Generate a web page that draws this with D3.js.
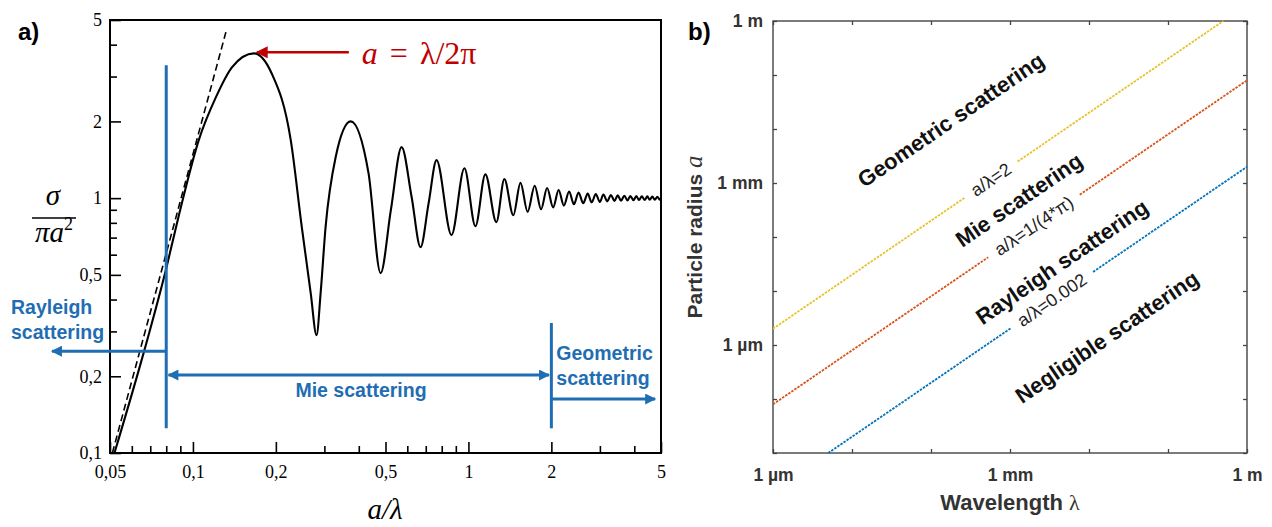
<!DOCTYPE html>
<html><head><meta charset="utf-8">
<script src="https://cdn.jsdelivr.net/npm/d3@7"></script>
<style>body{margin:0;background:#fff}svg{display:block}</style>
</head><body>
<svg id="c" width="1272" height="527"></svg>
<script>
// ================= DATA =================
// Panel a: sigma/(pi a^2) vs a/lambda
const curveX = [0.0519,0.0665,0.080,0.089,0.105,0.1212,0.1385,0.1664,0.193,0.2265,0.2484,0.2676,0.281,0.291,0.303,0.3296,0.3737,0.434,0.480,0.523,0.572,0.622,0.670,0.717,0.766,0.868,0.967,1.06,1.152,1.263,1.35,1.455,
  1.545,1.64,1.74,1.835,1.93,2.03,2.125,2.22,2.32,2.415,2.51,2.61,2.71,2.80,2.90,3.00,3.09,3.19,3.29,3.39,3.48,3.58,3.68,3.78,3.87,3.97,4.07,4.16,4.26,4.36,4.46,4.55,4.65,4.75,4.85,4.94,5.0];
const curveY = [0.1,0.251,0.53,0.86,1.69,2.49,3.26,3.70,3.09,1.688,0.77,0.424,0.29,0.43,0.77,1.448,2.0,1.25,0.508,0.90,1.585,1.01,0.642,0.956,1.41,0.716,1.31,0.776,1.24,0.805,1.187,0.857,
  1.148,0.883,1.119,0.904,1.096,0.920,1.076,0.935,1.062,0.946,1.052,0.955,1.042,0.962,1.038,0.966,1.033,0.971,1.028,0.975,1.026,0.977,1.022,0.979,1.020,0.982,1.018,0.983,1.017,0.984,1.016,0.985,1.014,0.986,1.013,0.987,1.0];
const asymptoteX = [0.051, 0.1317];
const asymptoteY = [0.1, 4.48];
const aXMajor = [0.05,0.1,0.2,0.5,1,2,5];
const aXMinor = [0.06,0.07,0.08,0.09,0.3,0.4,0.6,0.7,0.8,0.9,3,4];
const aYMajor = [0.1,0.2,0.5,1,2,5];
const aYMinor = [0.3,0.4,0.6,0.7,0.8,0.9,3,4];
const regimeBounds = [0.08, 2];          // a/lambda boundaries
const peakX = 0.1664, peakY = 3.70;      // a = lambda/2pi marker

// Panel b: regime boundaries a = r * lambda
const boundaryRatios = [2, 1/(4*Math.PI), 0.002];
const boundaryLabels = ["a/\u03bb=2", "a/\u03bb=1/(4*\u03c0)", "a/\u03bb=0.002"];
const boundaryColors = ["#E8C22A", "#D95319", "#0072BD"];
const regionNames = ["Geometric scattering","Mie scattering","Rayleigh scattering","Negligible scattering"];
const bXTicks = [1e-6,1e-5,1e-4,1e-3,1e-2,1e-1,1];
const bYTicks = [1e-8,1e-7,1e-6,1e-5,1e-4,1e-3,1e-2,1e-1,1];
const bTickLabelVals = [1e-6,1e-3,1];
const bTickLabels = ["1 \u00b5m","1 mm","1 m"];

// ================= LAYOUT =================
const svg = d3.select("#c");
const defs = svg.append("defs");
const BLUE = "#1f6db3", RED = "#c00000";
function marker(id, color, w, h){
  defs.append("marker").attr("id",id).attr("viewBox","0 0 10 10").attr("refX",9).attr("refY",5)
    .attr("markerWidth",w).attr("markerHeight",h).attr("markerUnits","userSpaceOnUse")
    .attr("orient","auto-start-reverse")
    .append("path").attr("d","M0,0 L10,5 L0,10 z").attr("fill",color);
}
marker("arrB", BLUE, 13, 11);
marker("arrR", RED, 17, 12);

// ---------- Panel a ----------
const xA = d3.scaleLog().domain([0.05,5]).range([110,661]);
const yA = d3.scaleLog().domain([0.1,5]).range([453,20]);
const gA = svg.append("g");
const loc = d3.formatLocale({decimal:",",thousands:".",grouping:[3],currency:["",""]});
const fmtA = loc.format("~g");
const serif = "'Liberation Serif','DejaVu Serif',serif";

function styleAxis(g, font, size, color, sw){
  g.select(".domain").remove();
  g.selectAll(".tick line").attr("stroke",color).attr("stroke-width",sw);
  g.selectAll(".tick text").attr("font-family",font).attr("font-size",size).attr("fill",color);
}
gA.append("g").attr("transform","translate(0,453)")
  .call(d3.axisBottom(xA).tickValues(aXMajor).tickSize(-11).tickPadding(12).tickFormat(fmtA))
  .call(g=>styleAxis(g,serif,18,"#000",1.6));
gA.append("g").attr("transform","translate(0,453)")
  .call(d3.axisBottom(xA).tickValues(aXMinor).tickSize(-7).tickFormat(""))
  .call(g=>styleAxis(g,serif,18,"#000",1.6));
gA.append("g").attr("transform","translate(110,0)")
  .call(d3.axisLeft(yA).tickValues(aYMajor).tickSize(-11).tickPadding(8).tickFormat(fmtA))
  .call(g=>styleAxis(g,serif,18,"#000",1.6));
gA.append("g").attr("transform","translate(110,0)")
  .call(d3.axisLeft(yA).tickValues(aYMinor).tickSize(-7).tickFormat(""))
  .call(g=>styleAxis(g,serif,18,"#000",1.6));
gA.append("rect").attr("x",xA.range()[0]).attr("y",yA.range()[1])
  .attr("width",xA.range()[1]-xA.range()[0]).attr("height",yA.range()[0]-yA.range()[1])
  .attr("fill","none").attr("stroke","#000").attr("stroke-width",2);

// asymptote
gA.append("path").datum(d3.zip(asymptoteX, asymptoteY))
  .attr("d", d3.line().x(d=>xA(d[0])).y(d=>yA(d[1])))
  .attr("fill","none").attr("stroke","#000").attr("stroke-width",1.6).attr("stroke-dasharray","7,4");
// curve
gA.append("path").datum(d3.zip(curveX, curveY))
  .attr("d", d3.line().x(d=>xA(d[0])).y(d=>yA(d[1])).curve(d3.curveMonotoneX))
  .attr("fill","none").attr("stroke","#000").attr("stroke-width",2.1).attr("stroke-linejoin","round");

// red annotation
const arrowTail = xA(peakX)+95;
gA.append("line").attr("x1",arrowTail).attr("x2",xA(peakX)+3)
  .attr("y1",yA(peakY)-1).attr("y2",yA(peakY)-1)
  .attr("stroke",RED).attr("stroke-width",2.5).attr("marker-end","url(#arrR)");
const rt = gA.append("text").attr("x",arrowTail+13).attr("y",yA(peakY)+11)
  .attr("font-family",serif).attr("font-size",32).attr("fill",RED);
rt.append("tspan").attr("font-style","italic").text("a");
rt.append("tspan").attr("dx",12).text("=");
rt.append("tspan").attr("dx",12).text("\u03bb/2\u03c0");

// blue regime annotations
const vTop = [3.32, 0.3236], vBot = 0.125;
regimeBounds.forEach((b,i)=>{
  gA.append("line").attr("x1",xA(b)).attr("x2",xA(b)).attr("y1",yA(vTop[i])).attr("y2",yA(vBot))
    .attr("stroke",BLUE).attr("stroke-width",3);
});
const arrowDefs = [
  {from:0.08, to:0.0308, y:0.251, both:false},
  {from:0.0815, to:1.96, y:0.2023, both:true},
  {from:2, to:4.76, y:0.1628, both:false}
];
arrowDefs.forEach(a=>{
  const l = gA.append("line").attr("x1",xA(a.from)).attr("x2",xA(a.to)).attr("y1",yA(a.y)).attr("y2",yA(a.y))
    .attr("stroke",BLUE).attr("stroke-width",3).attr("marker-end","url(#arrB)");
  if(a.both) l.attr("marker-start","url(#arrB)");
});
const sans = "'Liberation Sans',Arial,sans-serif";
function blueText(lines, x, y, anchor){
  const t = gA.append("text").attr("font-family",sans).attr("font-weight","bold").attr("font-size",19.5)
    .attr("fill",BLUE).attr("text-anchor",anchor);
  lines.forEach((s,i)=>t.append("tspan").attr("x",x).attr("y",y+i*25).text(s));
}
blueText(["Rayleigh","scattering"], 11, 314, "start");
blueText(["Mie scattering"], 361, 397, "middle");
blueText(["Geometric","scattering"], xA(2)+5, 360, "start");

// axis titles panel a
gA.append("text").attr("x",385).attr("y",519).attr("text-anchor","middle")
  .attr("font-family",serif).attr("font-style","italic").attr("font-size",29).text("a/\u03bb");
gA.append("text").attr("x",53).attr("y",205).attr("text-anchor","middle")
  .attr("font-family",serif).attr("font-style","italic").attr("font-size",29).text("\u03c3");
gA.append("line").attr("x1",32).attr("x2",76).attr("y1",218).attr("y2",218).attr("stroke","#000").attr("stroke-width",1.5);
const den = gA.append("text").attr("x",54).attr("y",242).attr("text-anchor","middle")
  .attr("font-family",serif).attr("font-style","italic").attr("font-size",29);
den.append("tspan").text("\u03c0a");
den.append("tspan").attr("font-size",18).attr("dy",-12).attr("font-style","normal").text("2");
svg.append("text").attr("x",18).attr("y",40).attr("font-family",sans).attr("font-weight","bold")
  .attr("font-size",24).text("a)");

// ---------- Panel b ----------
const xB = d3.scaleLog().domain([1e-6,1]).range([773,1247]);
const yB = d3.scaleLog().domain([1e-8,1]).range([453,21]);
const gB = svg.append("g");
const AX = "#444";
const labB = d => { const i = bTickLabelVals.indexOf(d); return i>=0 ? bTickLabels[i] : ""; };
gB.append("g").attr("transform","translate(0,453)")
  .call(d3.axisBottom(xB).tickValues(bXTicks).tickSize(-4).tickPadding(16).tickFormat(labB))
  .call(g=>styleAxis(g,sans,17.5,"#333",1.3)).call(g=>g.selectAll("line").attr("stroke",AX)).call(g=>g.selectAll("text").attr("font-weight","bold"));
gB.append("g").attr("transform","translate(0,21)")
  .call(d3.axisTop(xB).tickValues(bXTicks).tickSize(-4).tickFormat(""))
  .call(g=>styleAxis(g,sans,15,AX,1.3));
gB.append("g").attr("transform","translate(773,0)")
  .call(d3.axisLeft(yB).tickValues(bYTicks).tickSize(-4).tickPadding(10).tickFormat(labB))
  .call(g=>styleAxis(g,sans,17.5,"#333",1.3)).call(g=>g.selectAll("line").attr("stroke",AX)).call(g=>g.selectAll("text").attr("font-weight","bold"));
gB.append("g").attr("transform","translate(1247,0)")
  .call(d3.axisRight(yB).tickValues(bYTicks).tickSize(-4).tickFormat(""))
  .call(g=>styleAxis(g,sans,15,AX,1.3));
gB.append("rect").attr("x",773).attr("y",21).attr("width",474).attr("height",432)
  .attr("fill","none").attr("stroke",AX).attr("stroke-width",1.4);

// slope angle of a = r*lambda lines in pixel space
const ang = Math.atan2(yB(1e-3)-yB(1e-2), xB(1e-2)-xB(1e-3)) * 180/Math.PI; // ~34 deg
const cosA = Math.cos(ang*Math.PI/180);
const labelLambda = [5.75e-4, 2.01e-3, 3.40e-3];
boundaryRatios.forEach((r,i)=>{
  const l0 = Math.max(1e-6, 1e-8/r), l1 = Math.min(1, 1/r);
  const lc = labelLambda[i];
  const cx = xB(lc), cy = yB(r*lc);
  const t = gB.append("text").attr("transform",`translate(${cx},${cy}) rotate(${-ang})`)
    .attr("text-anchor","middle").attr("dominant-baseline","central")
    .attr("font-family",sans).attr("font-size",18).attr("fill","#222").text(boundaryLabels[i]);
  const L = t.node().getComputedTextLength();
  const half = (L/2 + 10) * cosA;
  const la = xB.invert(cx - half), lb = xB.invert(cx + half);
  [[l0,la],[lb,l1]].forEach(seg=>{
    gB.append("path").datum(seg)
      .attr("d", d3.line().x(d=>xB(d)).y(d=>yB(r*d)))
      .attr("stroke",boundaryColors[i]).attr("stroke-width",1.8).attr("fill","none")
      .attr("stroke-dasharray","2.5,1.2");
  });
});
const regionLambda = [1.79e-4, 1.30e-3, 4.55e-3, 1.69e-2];
const regionRadius = [1.47e-2, 4.84e-4, 3.44e-5, 1.41e-6];
regionNames.forEach((s,i)=>{
  gB.append("text").attr("transform",`translate(${xB(regionLambda[i])},${yB(regionRadius[i])}) rotate(${-ang})`)
    .attr("text-anchor","middle").attr("dominant-baseline","central")
    .attr("font-family",sans).attr("font-weight","bold").attr("font-size",22).attr("fill","#111").text(s);
});
// axis titles panel b
const xt = gB.append("text").attr("x",1010).attr("y",510).attr("text-anchor","middle")
  .attr("font-family",sans).attr("font-weight","bold").attr("font-size",22).attr("fill","#333");
xt.append("tspan").text("Wavelength ");
xt.append("tspan").attr("font-weight","normal").attr("font-family",serif).text("\u03bb");
const yt = gB.append("text").attr("transform","translate(702,237) rotate(-90)").attr("text-anchor","middle")
  .attr("font-family",sans).attr("font-weight","bold").attr("font-size",21).attr("fill","#333");
yt.append("tspan").text("Particle radius  ");
yt.append("tspan").attr("font-weight","normal").attr("font-style","italic").attr("font-family",serif).attr("font-size",25).text("a");
svg.append("text").attr("x",688).attr("y",40).attr("font-family",sans).attr("font-weight","bold")
  .attr("font-size",24).text("b)");
</script>
</body></html>
